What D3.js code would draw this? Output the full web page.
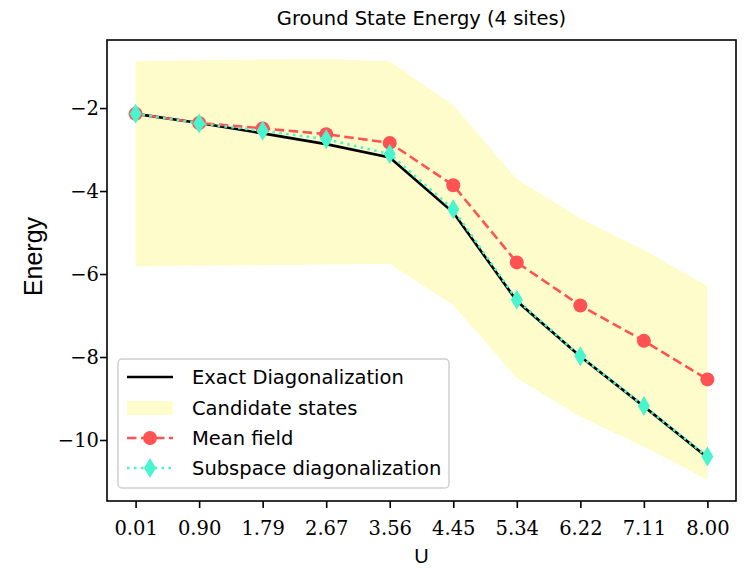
<!DOCTYPE html>
<html>
<head>
<meta charset="utf-8">
<script src="https://cdn.jsdelivr.net/npm/d3@7"></script>
<style>
  body { margin: 0; background: #fff; }
  svg { display: block; }
</style>
</head>
<body>
<svg width="750" height="568"></svg>
<script>
// values
const uLabels = ["0.01", "0.90", "1.79", "2.67", "3.56", "4.45", "5.34", "6.22", "7.11", "8.00"];
const exactDiag = [-2.14, -2.36, -2.61, -2.87, -3.19, -4.52, -6.65, -7.99, -9.19, -10.42];
const meanField = [-2.14, -2.36, -2.49, -2.63, -2.84, -3.86, -5.72, -6.76, -7.61, -8.54];
const subspaceDiag = [-2.14, -2.37, -2.55, -2.75, -3.11, -4.44, -6.62, -7.98, -9.18, -10.40];
const candUpper = [-0.87, -0.85, -0.83, -0.82, -0.87, -1.93, -3.71, -4.66, -5.42, -6.29];
const candLower = [-5.82, -5.80, -5.79, -5.77, -5.76, -6.75, -8.51, -9.44, -10.16, -10.96];
const yTicks = [-2, -4, -6, -8, -10];

const legendItems = ["Exact Diagonalization", "Candidate states", "Mean field", "Subspace diagonalization"];

const fillColor = "#fffccc";
const redColor = "#ff5252";
const cyanColor = "#48f5cf";

const margin = {left: 107, right: 736, top: 40, bottom: 501};

const svg = d3.select("svg");

const x = d3.scalePoint()
  .domain(uLabels)
  .range([margin.left, margin.right])
  .padding(0.45);

const y = d3.scaleLinear()
  .domain([-11.47, -0.36])
  .range([margin.bottom, margin.top]);

const rows = uLabels.map((u, i) => ({
  u: u, exact: exactDiag[i], mean: meanField[i], sub: subspaceDiag[i],
  hi: candUpper[i], lo: candLower[i]
}));

// candidate band
svg.append("path")
  .datum(rows)
  .attr("fill", fillColor)
  .attr("d", d3.area().x(d => x(d.u)).y0(d => y(d.lo)).y1(d => y(d.hi)));

// exact diagonalization
svg.append("path")
  .datum(rows)
  .attr("fill", "none")
  .attr("stroke", "#000")
  .attr("stroke-width", 2.6)
  .attr("d", d3.line().x(d => x(d.u)).y(d => y(d.exact)));

// mean field
svg.append("path")
  .datum(rows)
  .attr("fill", "none")
  .attr("stroke", redColor)
  .attr("stroke-width", 2.6)
  .attr("stroke-dasharray", "9.5,4.5")
  .attr("d", d3.line().x(d => x(d.u)).y(d => y(d.mean)));

svg.selectAll(".mf")
  .data(rows)
  .enter()
  .append("circle")
  .attr("class", "mf")
  .attr("cx", d => x(d.u))
  .attr("cy", d => y(d.mean))
  .attr("r", 7)
  .attr("fill", redColor);

// subspace diagonalization
svg.append("path")
  .datum(rows)
  .attr("fill", "none")
  .attr("stroke", cyanColor)
  .attr("stroke-width", 2.6)
  .attr("stroke-dasharray", "2.6,4.3")
  .attr("d", d3.line().x(d => x(d.u)).y(d => y(d.sub)));

const diamond = "M0,-10L6,0L0,10L-6,0Z";

svg.selectAll(".sd")
  .data(rows)
  .enter()
  .append("path")
  .attr("class", "sd")
  .attr("d", diamond)
  .attr("transform", d => `translate(${x(d.u)},${y(d.sub)})`)
  .attr("fill", cyanColor);

// axes
const xAxis = svg.append("g")
  .attr("transform", `translate(0,${margin.bottom})`)
  .call(d3.axisBottom(x).tickSize(7).tickPadding(13).tickSizeOuter(0));

const yAxis = svg.append("g")
  .attr("transform", `translate(${margin.left},0)`)
  .call(d3.axisLeft(y).tickValues(yTicks).tickSize(7).tickPadding(1).tickSizeOuter(0)
    .tickFormat(d => "\u2212" + Math.abs(d)));

[xAxis, yAxis].forEach(a => {
  a.select(".domain").remove();
  a.selectAll("line").attr("stroke", "#000").attr("stroke-width", 1.6);
  a.selectAll("text")
    .attr("fill", "#000")
    .style("font-family", "'DejaVu Serif', serif")
    .style("font-size", "19.5px");
});

// frame
svg.append("rect")
  .attr("x", margin.left)
  .attr("y", margin.top)
  .attr("width", margin.right - margin.left)
  .attr("height", margin.bottom - margin.top)
  .attr("fill", "none")
  .attr("stroke", "#000")
  .attr("stroke-width", 1.6);

// title and labels
svg.append("text")
  .attr("x", (margin.left + margin.right) / 2)
  .attr("y", 25)
  .attr("text-anchor", "middle")
  .style("font-family", "'DejaVu Sans', sans-serif")
  .style("font-size", "19.5px")
  .text("Ground State Energy (4 sites)");

svg.append("text")
  .attr("transform", `translate(42,${(margin.top + margin.bottom) / 2 - 14}) rotate(-90)`)
  .attr("text-anchor", "middle")
  .style("font-family", "'Liberation Sans', Arial, sans-serif")
  .style("font-size", "25px")
  .text("Energy");

svg.append("text")
  .attr("x", (margin.left + margin.right) / 2)
  .attr("y", 563)
  .attr("text-anchor", "middle")
  .style("font-family", "'Liberation Sans', Arial, sans-serif")
  .style("font-size", "20px")
  .text("U");

// legend
const lg = svg.append("g");
lg.append("rect")
  .attr("x", 118).attr("y", 359)
  .attr("width", 331).attr("height", 129)
  .attr("rx", 4)
  .attr("fill", "#fff").attr("fill-opacity", 0.8)
  .attr("stroke", "#d0d0d0").attr("stroke-width", 1.5);

const rowY = [377, 408, 438, 468];
const hx0 = 127, hx1 = 173, hmid = 150;

lg.append("line")
  .attr("x1", hx0).attr("x2", hx1).attr("y1", rowY[0]).attr("y2", rowY[0])
  .attr("stroke", "#000").attr("stroke-width", 2.6);
lg.append("rect")
  .attr("x", hx0).attr("y", rowY[1] - 7).attr("width", hx1 - hx0).attr("height", 14)
  .attr("fill", fillColor);
lg.append("line")
  .attr("x1", hx0).attr("x2", hx1).attr("y1", rowY[2]).attr("y2", rowY[2])
  .attr("stroke", redColor).attr("stroke-width", 2.6).attr("stroke-dasharray", "9.5,4.5");
lg.append("circle")
  .attr("cx", hmid).attr("cy", rowY[2]).attr("r", 7).attr("fill", redColor);
lg.append("line")
  .attr("x1", hx0).attr("x2", hx1).attr("y1", rowY[3]).attr("y2", rowY[3])
  .attr("stroke", cyanColor).attr("stroke-width", 2.6).attr("stroke-dasharray", "2.6,4.3");
lg.append("path")
  .attr("d", diamond)
  .attr("transform", `translate(${hmid},${rowY[3]})`)
  .attr("fill", cyanColor);

lg.selectAll(".lt")
  .data(legendItems)
  .enter()
  .append("text")
  .attr("class", "lt")
  .attr("x", 192)
  .attr("y", (d, i) => rowY[i] + 7)
  .style("font-family", "'DejaVu Sans', sans-serif")
  .style("font-size", "19.5px")
  .text(d => d);
</script>
</body>
</html>
